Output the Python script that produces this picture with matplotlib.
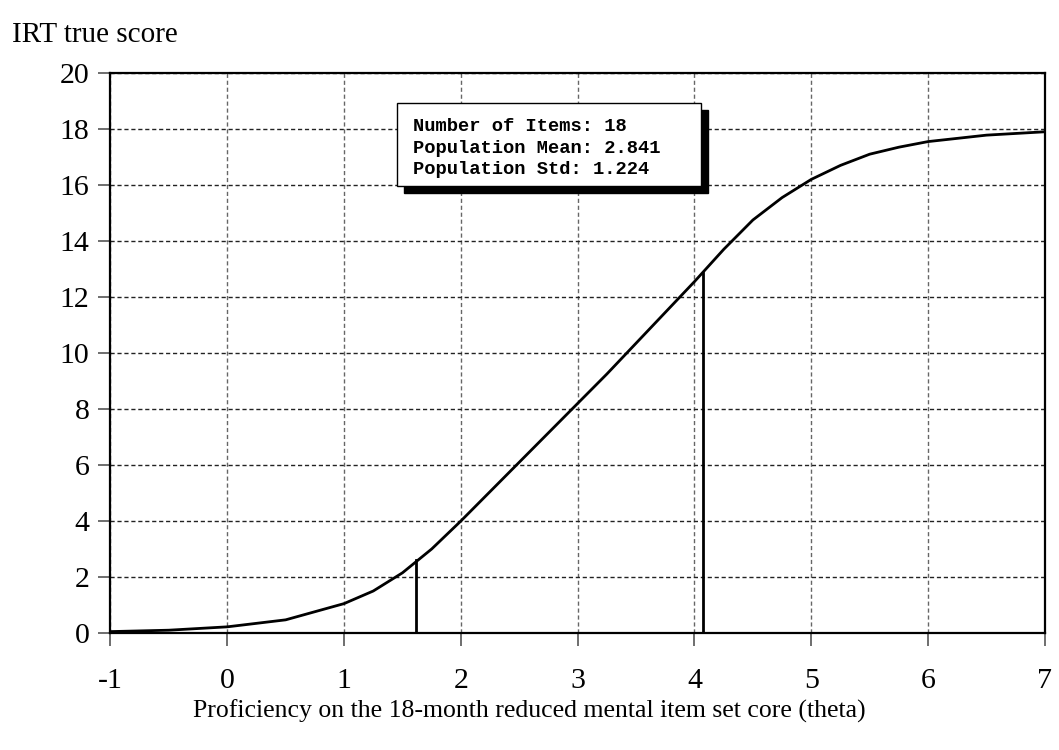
import matplotlib.pyplot as plt
from matplotlib.patches import Rectangle

# true score curve
theta = [-1, -0.5, 0, 0.5, 1, 1.25, 1.5, 1.75, 2, 2.25, 2.5, 2.75, 3, 3.25,
         3.5, 3.75, 4, 4.25, 4.5, 4.75, 5, 5.25, 5.5, 5.75, 6, 6.5, 7]
score = [0.05, 0.10, 0.22, 0.47, 1.05, 1.5, 2.15, 3.0, 4.0, 5.05, 6.1, 7.15,
         8.2, 9.25, 10.35, 11.45, 12.55, 13.7, 14.75, 15.55, 16.2, 16.7,
         17.1, 17.35, 17.55, 17.78, 17.9]

# vertical markers (theta, score)
mark_x = [1.62, 4.075]
mark_y = [2.6, 12.87]

info_lines = ["Number of Items: 18", "Population Mean: 2.841", "Population Std: 1.224"]

x_ticks = [-1, 0, 1, 2, 3, 4, 5, 6, 7]
y_ticks = [0, 2, 4, 6, 8, 10, 12, 14, 16, 18, 20]

plt.rcParams['font.family'] = ['Liberation Serif', 'DejaVu Serif']

fig = plt.figure(figsize=(10.59, 7.5), dpi=100)
ax = fig.add_axes([0.1043, 0.156, 0.8824, 0.7467])

ax.plot(theta, score, color='black', lw=2, zorder=3)
for mx, my in zip(mark_x, mark_y):
    ax.plot([mx, mx], [0, my], color='black', lw=2, zorder=3)

ax.set_xlim(-1, 7)
ax.set_ylim(0, 20)
ax.set_xticks(x_ticks)
ax.set_yticks(y_ticks)
ax.set_xticklabels([str(t) for t in x_ticks])
ax.tick_params(axis='both', direction='out', length=9, width=1.2, color='#555555',
               labelsize=21.5)
ax.tick_params(axis='x', pad=16)
ax.tick_params(axis='y', pad=6)

ax.xaxis.grid(True, color='#666666', linestyle=(0, (3, 2)), lw=1)
ax.yaxis.grid(True, color='#222222', linestyle=(0, (3, 2)), lw=1)
ax.set_axisbelow(True)
for s in ax.spines.values():
    s.set_linewidth(1.6)

fig.text(0.011, 0.953, "IRT true score", fontsize=21, ha='left', va='center')
fig.text(0.5, 0.052, "Proficiency on the 18-month reduced mental item set core (theta)",
         fontsize=18.5, ha='center', va='center')

# info box with drop shadow
x0, y0 = 397 / 1059, 1 - 185.7 / 750
w, h = (700.7 - 397) / 1059, (185.7 - 103) / 750
dx, dy = 7 / 1059, 7 / 750
fig.patches.append(Rectangle((x0 + dx, y0 - dy), w, h, transform=fig.transFigure,
                             facecolor='black', edgecolor='black', zorder=5))
fig.patches.append(Rectangle((x0, y0), w, h, transform=fig.transFigure,
                             facecolor='white', edgecolor='black', lw=1, zorder=6))
for i, line in enumerate(info_lines):
    fig.text(413 / 1059, 1 - (126.7 + i * 21.5) / 750, line, fontsize=13.5,
             family='Liberation Mono', weight='bold', ha='left', va='center', zorder=7)

fig.savefig('out.png', dpi=100)
